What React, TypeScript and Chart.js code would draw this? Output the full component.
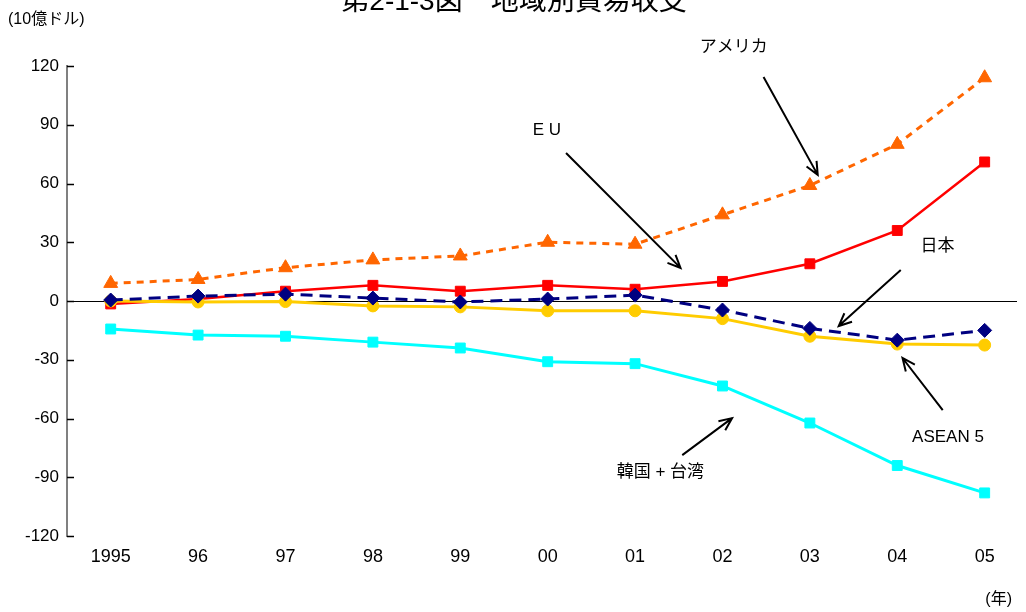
import React, { useEffect, useRef } from "react";
import { Chart, registerables } from "chart.js";

Chart.register(...registerables);

const titleText = "第2-1-3図　地域別貿易収支";
const yUnit = "(10億ドル)";
const xUnit = "(年)";

const years = ["1995", "96", "97", "98", "99", "00", "01", "02", "03", "04", "05"];
const yTicks = [-120, -90, -60, -30, 0, 30, 60, 90, 120];

const america = [9, 11, 17, 21, 23, 30, 29, 44, 59, 80, 114];
const eu = [-1.5, 1, 5, 8, 5, 8, 6, 10, 19, 36, 71];
const japan = [0.5, 2.5, 3.5, 1.5, -0.5, 1, 3, -4.6, -14, -20, -15];
const asean5 = [0, -0.5, -0.3, -2.5, -3, -5, -5, -9, -18, -22, -22.5];
const koreaTaiwan = [-14.3, -17.4, -18, -21, -24, -31, -32, -43.4, -62.3, -84, -98];

// annotation labels & arrows in data coordinates (x = year index, y = value)
const annLabels = ["アメリカ", "E U", "日本", "ASEAN 5", "韓国 + 台湾"];
const annTextPos = [[7.13, 129.7], [4.99, 87.3], [9.46, 28.1], [9.58, -69.5], [6.29, -87.3]];
const annArrowFrom = [[7.47, 114.4], [5.21, 75.6], [9.04, 15.8], [9.52, -55.7], [6.54, -78.7]];
const annArrowTo = [[8.09, 64.4], [6.52, 16.9], [8.33, -12.8], [9.06, -29.1], [7.11, -59.8]];

const FONT = '"Liberation Sans", "Noto Sans CJK JP", sans-serif';

const toPts = (arr: number[]) => arr.map((v, i) => ({ x: i, y: v }));

const overlay = {
  id: "overlay",
  afterDraw(chart: any) {
    const ctx = chart.ctx;
    const xs = chart.scales.x;
    const ys = chart.scales.y;
    const area = chart.chartArea;
    ctx.save();
    // inward y ticks
    ctx.strokeStyle = "#000";
    ctx.lineWidth = 1.5;
    yTicks.forEach((v) => {
      const py = Math.round(ys.getPixelForValue(v)) + 0.5;
      ctx.beginPath();
      ctx.moveTo(area.left, py);
      ctx.lineTo(area.left + 7, py);
      ctx.stroke();
    });
    // title (clipped at top)
    ctx.fillStyle = "#000";
    ctx.font = `28px ${FONT}`;
    ctx.textAlign = "center";
    ctx.textBaseline = "alphabetic";
    ctx.fillText(titleText, 514, 10);
    // units
    ctx.font = `16px ${FONT}`;
    ctx.textAlign = "left";
    ctx.textBaseline = "middle";
    ctx.fillText(yUnit, 8, 20);
    ctx.textAlign = "right";
    ctx.fillText(xUnit, 1012, 600);
    // annotations
    ctx.font = `17px ${FONT}`;
    ctx.textAlign = "center";
    ctx.textBaseline = "middle";
    annLabels.forEach((t, i) => {
      ctx.fillText(t, xs.getPixelForValue(annTextPos[i][0]), ys.getPixelForValue(annTextPos[i][1]));
      const x1 = xs.getPixelForValue(annArrowFrom[i][0]);
      const y1 = ys.getPixelForValue(annArrowFrom[i][1]);
      const x2 = xs.getPixelForValue(annArrowTo[i][0]);
      const y2 = ys.getPixelForValue(annArrowTo[i][1]);
      ctx.strokeStyle = "#000";
      ctx.lineWidth = 2;
      ctx.beginPath();
      ctx.moveTo(x1, y1);
      ctx.lineTo(x2, y2);
      const ang = Math.atan2(y2 - y1, x2 - x1);
      const hl = 14;
      const ha = 0.42;
      ctx.moveTo(x2 - hl * Math.cos(ang - ha), y2 - hl * Math.sin(ang - ha));
      ctx.lineTo(x2, y2);
      ctx.lineTo(x2 - hl * Math.cos(ang + ha), y2 - hl * Math.sin(ang + ha));
      ctx.stroke();
    });
    ctx.restore();
  },
};

export default function App() {
  const ref = useRef<HTMLCanvasElement | null>(null);
  useEffect(() => {
    if (!ref.current) return;
    const chart = new Chart(ref.current, {
      type: "line",
      data: {
        datasets: [
          {
            label: "日本",
            data: toPts(japan),
            borderColor: "#000080",
            backgroundColor: "#000080",
            borderWidth: 3,
            borderDash: [12, 7],
            pointStyle: "rectRot",
            pointRadius: 7,
            pointBorderWidth: 1,
            tension: 0,
            order: 0,
          },
          {
            label: "ASEAN 5",
            data: toPts(asean5),
            borderColor: "#FFCC00",
            backgroundColor: "#FFCC00",
            borderWidth: 3,
            pointStyle: "circle",
            pointRadius: 6,
            pointBorderWidth: 1,
            tension: 0,
            order: 1,
          },
          {
            label: "EU",
            data: toPts(eu),
            borderColor: "#FF0000",
            backgroundColor: "#FF0000",
            borderWidth: 2.5,
            pointStyle: "rect",
            pointRadius: 7,
            pointBorderWidth: 1,
            tension: 0,
            order: 2,
          },
          {
            label: "アメリカ",
            data: toPts(america),
            borderColor: "#FF6600",
            backgroundColor: "#FF6600",
            borderWidth: 3,
            borderDash: [7, 6],
            pointStyle: "triangle",
            pointRadius: 8,
            pointBorderWidth: 1,
            tension: 0,
            order: 3,
          },
          {
            label: "韓国 + 台湾",
            data: toPts(koreaTaiwan),
            borderColor: "#00FFFF",
            backgroundColor: "#00FFFF",
            borderWidth: 3,
            pointStyle: "rect",
            pointRadius: 7,
            pointBorderWidth: 1,
            tension: 0,
            order: 4,
          },
        ],
      },
      options: {
        responsive: false,
        animation: false,
        devicePixelRatio: 1,
        layout: { padding: { top: 66, right: 6, left: 0, bottom: 0 } },
        plugins: { legend: { display: false }, tooltip: { enabled: false }, title: { display: false } },
        scales: {
          x: {
            type: "linear",
            min: -0.5,
            max: 10.37,
            afterBuildTicks: (s: any) => {
              s.ticks = years.map((_, i) => ({ value: i }));
            },
            afterFit: (s: any) => {
              s.height = 76;
            },
            grid: { display: false, drawTicks: false },
            border: { display: false },
            ticks: {
              autoSkip: false,
              maxRotation: 0,
              padding: 10,
              color: "#000",
              font: { size: 18, family: FONT },
              callback: (_v: any, i: number) => years[i],
            },
          },
          y: {
            min: -120,
            max: 120,
            afterBuildTicks: (s: any) => {
              s.ticks = yTicks.map((v) => ({ value: v }));
            },
            afterFit: (s: any) => {
              s.width = 67;
            },
            grid: {
              drawTicks: false,
              color: (c: any) => (c.tick && c.tick.value === 0 ? "#000" : "rgba(0,0,0,0)"),
              lineWidth: 1,
            },
            border: { display: true, color: "#808080", width: 2 },
            ticks: {
              padding: 8,
              color: "#000",
              font: { size: 17, family: FONT },
              callback: (v: any) => String(v),
            },
          },
        },
      },
      plugins: [overlay],
    });
    return () => chart.destroy();
  }, []);
  return (
    <div style={{ position: "fixed", left: 0, top: 0, width: 1026, height: 612, background: "#fff" }}>
      <canvas ref={ref} width={1026} height={612} style={{ display: "block" }} />
    </div>
  );
}
